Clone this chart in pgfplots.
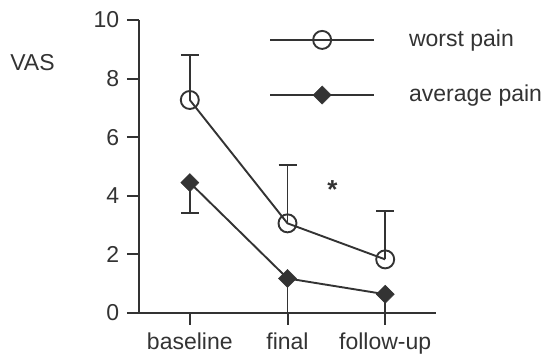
\documentclass[border=0pt]{standalone}
\usepackage{pgfplots}
\pgfplotsset{compat=1.18}
\usepackage{fontspec}
\setmainfont{Liberation Sans}
\definecolor{ink}{HTML}{333333}
\begin{document}
\fontsize{23}{27}\selectfont
\begin{tikzpicture}
\useasboundingbox (-139pt,-45pt) rectangle (404pt,313pt);
\begin{axis}[
  at={(0,0)}, anchor=south west,
  scale only axis, width=297pt, height=293pt,
  xmin=-0.52, xmax=2.52, ymin=0, ymax=10,
  axis x line=bottom, axis y line=left,
  axis line style={-, line width=2pt, color=ink},
  xtick={0,1,2}, xticklabels={baseline,final,follow-up},
  ytick={0,2,...,10},
  tick align=outside, major tick length=12pt,
  tick style={line width=2pt, color=ink},
  clip=false,
  /pgf/number format/assume math mode=true,
  ticklabel style={font=\fontsize{23}{27}\selectfont, text=ink},
  legend image code/.code={\draw[#1, mark repeat=2, mark phase=2] plot coordinates {(0pt,0pt) (52pt,0pt) (104pt,0pt)};},
  legend style={draw=none, fill=none, inner sep=0pt, at={(axis description cs:0.4377,0.838)}, anchor=west,
    nodes={inner sep=0pt, text=ink, font=\fontsize{23}{27}\selectfont}, row sep=35pt,
    /tikz/every odd column/.append style={column sep=34pt}},
  legend cell align=left,
]
\addplot[color=ink, line width=1.9pt, mark=o, mark size=9pt,
  mark options={fill=white, line width=1.9pt},
  error bars/.cd, y dir=plus, y explicit,
  error bar style={line width=1.9pt, color=ink},
  error mark options={rotate=90, mark size=9pt, line width=1.9pt, color=ink}]
  coordinates {(0,7.27) +- (0,1.53) (1,3.06) +- (0,1.99) (2,1.83) +- (0,1.65)};
\addlegendentry{worst pain}
\addplot[color=ink, line width=1.9pt, mark=square*, mark size=6.4pt,
  mark options={rotate=45, fill=ink, line width=0.5pt},
  error bars/.cd, y dir=minus, y explicit,
  error bar style={line width=1.9pt, color=ink},
  error mark options={rotate=90, mark size=9pt, line width=1.9pt, color=ink}]
  coordinates {(0,4.45) +- (0,1.05) (1,1.18) +- (0,1.18) (2,0.64) +- (0,0.64)};
\addlegendentry{average pain}
\node[text=ink, font=\fontsize{26}{30}\selectfont\bfseries] at (axis cs:1.46,4.2) {*};
\node[text=ink, font=\fontsize{23}{27}\selectfont] at (axis description cs:-0.3586,0.8532) {VAS};
\end{axis}
\end{tikzpicture}
\end{document}
